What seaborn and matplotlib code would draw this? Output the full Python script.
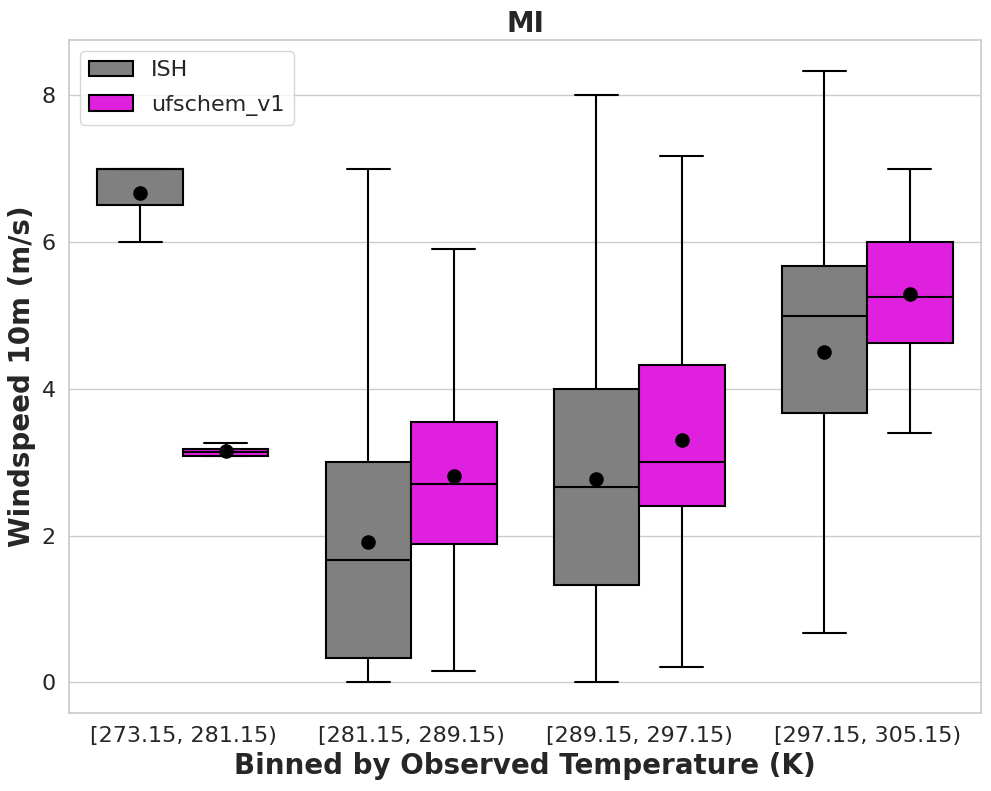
import numpy as np
import pandas as pd
import matplotlib
matplotlib.use("Agg")
import matplotlib.pyplot as plt
import seaborn as sns

bins = ["[273.15, 281.15)", "[281.15, 289.15)", "[289.15, 297.15)", "[297.15, 305.15)"]
models = ["ISH", "ufschem_v1"]

# five-number summaries per bin: [min, q1, median, q3, max]
ish_stats = [
    [6.0, 6.5, 7.0, 7.0, 7.0],
    [0.0, 0.33, 1.67, 3.0, 7.0],
    [0.0, 1.33, 2.67, 4.0, 8.0],
    [0.67, 3.67, 5.0, 5.67, 8.33],
]
ufs_stats = [
    [3.09, 3.09, 3.14, 3.18, 3.26],
    [0.15, 1.88, 2.7, 3.55, 5.9],
    [0.21, 2.4, 3.0, 4.33, 7.18],
    [3.4, 4.63, 5.25, 6.0, 7.0],
]
ish_means = [6.67, 1.91, 2.77, 4.5]
ufs_means = [3.15, 2.81, 3.31, 5.29]

rows = []
for b, vals in zip(bins, ish_stats):
    for v in vals:
        rows.append({"bin": b, "model": "ISH", "ws": v})
for b, vals in zip(bins, ufs_stats):
    for v in vals:
        rows.append({"bin": b, "model": "ufschem_v1", "ws": v})
df = pd.DataFrame(rows)

mrows = []
for b, m in zip(bins, ish_means):
    mrows.append({"bin": b, "model": "ISH", "ws": m})
for b, m in zip(bins, ufs_means):
    mrows.append({"bin": b, "model": "ufschem_v1", "ws": m})
dfm = pd.DataFrame(mrows)

sns.set_theme(style="whitegrid")
plt.rcParams['font.family'] = ['DejaVu Sans']

fig, ax = plt.subplots(figsize=(9.91, 7.91), dpi=100)
fig.subplots_adjust(left=0.0696, right=0.990, top=0.949, bottom=0.0986)

sns.boxplot(data=df, x="bin", y="ws", hue="model", order=bins, hue_order=models,
            palette=["gray", "magenta"], whis=(0, 100), width=0.75,
            linecolor="black", linewidth=1.5, showfliers=False, ax=ax)

sns.pointplot(data=dfm, x="bin", y="ws", hue="model", order=bins, hue_order=models,
              palette={"ISH": "black", "ufschem_v1": "black"}, markers="o",
              linestyles="none", errorbar=None, dodge=0.375, legend=False,
              markersize=10.5, markeredgewidth=0, zorder=10, ax=ax)

ax.set_title("MI", fontsize=20, fontweight="bold")
ax.set_xlabel("Binned by Observed Temperature (K)", fontsize=20, fontweight="bold")
ax.set_ylabel("Windspeed 10m (m/s)", fontsize=20, fontweight="bold")
ax.tick_params(axis="both", labelsize=16)
ax.set_xlim(-0.5, 3.5)
ax.set_ylim(-0.4165, 8.75)
sns.move_legend(ax, "upper left", title=None, fontsize=16, labelspacing=0.65)

fig.savefig("out.png", dpi=100)
